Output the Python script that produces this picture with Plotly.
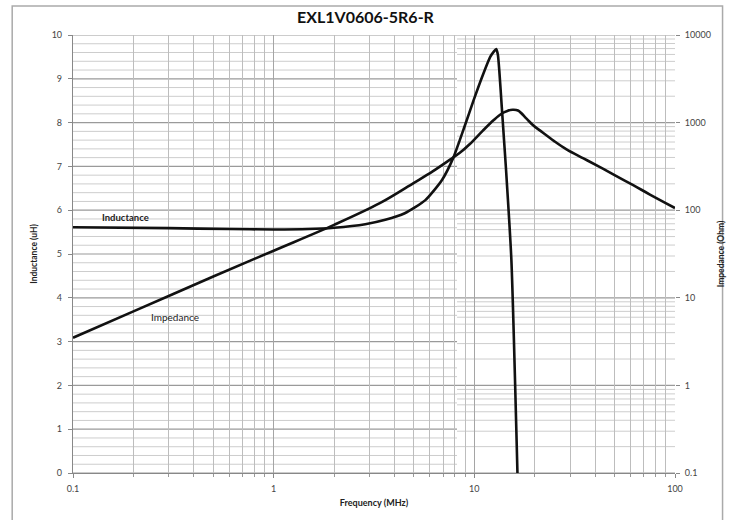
import math
import plotly.graph_objects as go

# ---------------- data ----------------
ind_freq = [0.1, 0.3, 0.6, 1.0, 1.5, 2.0, 2.86, 3.6, 4.5, 5.7, 6.9, 7.86, 9.0, 9.9, 11.1, 12.0, 12.5, 12.85, 13.1, 13.35, 13.7, 14.06, 14.4, 15.3, 16.4]
ind_uH = [5.61, 5.59, 5.57, 5.56, 5.57, 5.60, 5.68, 5.78, 5.93, 6.23, 6.69, 7.20, 7.95, 8.50, 9.12, 9.50, 9.62, 9.68, 9.55, 9.12, 8.36, 7.60, 6.90, 4.86, 0.0]

imp_freq = [0.1, 0.2, 0.5, 1.0, 2.0, 3.4, 5.0, 6.2, 7.6, 8.5, 9.5, 11.0, 12.5, 13.7, 14.6, 15.5, 16.5, 18.2, 19.7, 21.2, 25.0, 28.8, 35.0, 42.3, 50.0, 61.9, 75.0, 100.0]
imp_ohm = [3.5, 7.0, 17.5, 34.5, 68.0, 121.0, 205.0, 277.0, 380.0, 455.0, 570.0, 805.0, 1070.0, 1270.0, 1360.0, 1400.0, 1375.0, 1110.0, 925.0, 815.0, 615.0, 495.0, 390.0, 310.0, 251.0, 193.0, 151.0, 106.0]

title_text = "EXL1V0606-5R6-R"
x_title = "Frequency (MHz)"
y_left_title = "Inductance (uH)"
y_right_title = "Impedance (Ohm)"

freq_major = [0.1, 1, 10, 100]
freq_major_text = ["0.1", "1", "10", "100"]
freq_minor = [m * d for d in [0.1, 1, 10] for m in range(2, 10)]

ind_ticks = list(range(0, 11))
ind_minor_step = 0.2
imp_major = [0.1, 1, 10, 100, 1000, 10000]
imp_major_text = ["0.1", "1", "10", "100", "1000", "10000"]
imp_minor = [m * d for d in [0.1, 1, 10, 100, 1000] for m in range(2, 10)]

split_mhz = 8.2  # where the reference switches horizontal grid style

# ---------------- styling ----------------
FONT = "Lato"
MAJOR = "#9a9a9a"
MINOR = "#cdcdcd"
VGRID = "#bdbdbd"
TXT = "#444444"

x_lo, x_hi = math.log10(freq_major[0]), math.log10(freq_major[-1])
split_frac = (math.log10(split_mhz) - x_lo) / (x_hi - x_lo)
imp_lo, imp_hi = math.log10(imp_major[0]), math.log10(imp_major[-1])
ind_lo, ind_hi = ind_ticks[0], ind_ticks[-1]


def imp_to_ind_scale(v):
    # position of an impedance gridline expressed in the left (linear) axis units
    return ind_lo + (math.log10(v) - imp_lo) / (imp_hi - imp_lo) * (ind_hi - ind_lo)


shapes = []
# left part: linear inductance grid (major integers, minor every 0.2)
n_minor = int(round((ind_hi - ind_lo) / ind_minor_step))
for k in range(n_minor + 1):
    v = ind_lo + k * ind_minor_step
    is_major = abs(v - round(v)) < 1e-9
    shapes.append(dict(type="line", xref="paper", yref="y", x0=0, x1=split_frac, y0=v, y1=v,
                       line=dict(color=MAJOR if is_major else MINOR, width=1.2 if is_major else 1),
                       layer="below"))
# right part: log impedance grid
for v in imp_minor:
    yv = imp_to_ind_scale(v)
    shapes.append(dict(type="line", xref="paper", yref="y", x0=split_frac, x1=1, y0=yv, y1=yv,
                       line=dict(color=MINOR, width=1), layer="below"))
for v in imp_major:
    yv = imp_to_ind_scale(v)
    shapes.append(dict(type="line", xref="paper", yref="y", x0=split_frac, x1=1, y0=yv, y1=yv,
                       line=dict(color=MAJOR, width=1.2), layer="below"))
# outer chart frame
shapes.append(dict(type="rect", xref="paper", yref="paper", x0=-0.101, x1=1.079, y0=-0.2, y1=1.066,
                   line=dict(color="#aaaaaa", width=1.5), fillcolor="rgba(0,0,0,0)", layer="below"))

fig = go.Figure()
fig.add_trace(go.Scatter(x=imp_freq, y=imp_ohm, xaxis="x", yaxis="y2", mode="lines",
                         line=dict(color="#111111", width=2.6, shape="spline", smoothing=1.0),
                         name="Impedance", showlegend=False))
fig.add_trace(go.Scatter(x=ind_freq, y=ind_uH, xaxis="x", yaxis="y", mode="lines",
                         line=dict(color="#111111", width=2.6, shape="spline", smoothing=0.6),
                         name="Inductance", showlegend=False))

fig.update_layout(
    width=731, height=520,
    margin=dict(l=73, r=56, t=35, b=47, autoexpand=False),
    paper_bgcolor="white",
    plot_bgcolor="white",
    font=dict(family=FONT, color=TXT, size=9),
    title=dict(text="<b>" + title_text + "</b>", x=0.5, xanchor="center", y=0.967, yanchor="middle",
               font=dict(family=FONT, size=16, color="#111111")),
    xaxis=dict(type="log", range=[x_lo, x_hi], automargin=False,
               tickmode="array", tickvals=freq_major, ticktext=freq_major_text,
               showgrid=True, gridcolor="#a5a5a5", gridwidth=1.2,
               minor=dict(tickmode="array", tickvals=freq_minor, showgrid=True, gridcolor=VGRID, gridwidth=1,
                          ticks="outside", ticklen=3, tickcolor="#999999"),
               ticks="outside", ticklen=4, tickcolor="#888888",
               showline=True, linecolor="#888888", linewidth=1.2,
               tickfont=dict(size=9, color=TXT), ticklabelstandoff=3,
               title=dict(text="<b>" + x_title + "</b>", font=dict(size=9, color="#222222"), standoff=6),
               zeroline=False),
    yaxis=dict(range=[ind_lo, ind_hi], tickmode="array", tickvals=ind_ticks, automargin=False,
               showgrid=False, zeroline=False,
               ticks="outside", ticklen=4, tickcolor="#888888",
               showline=True, linecolor="#888888", linewidth=1.2,
               tickfont=dict(size=9, color=TXT), ticklabelstandoff=4,
               title=dict(text="<b>" + y_left_title + "</b>", font=dict(size=8.5, color="#222222"), standoff=12)),
    yaxis2=dict(overlaying="y", anchor="x", side="right", type="log", range=[imp_lo, imp_hi], automargin=False,
                tickmode="array", tickvals=imp_major, ticktext=imp_major_text,
                showgrid=False, zeroline=False,
                ticks="outside", ticklen=4, tickcolor="#888888",
                showline=False,
                tickfont=dict(size=9, color=TXT), ticklabelstandoff=3,
                title=dict(text="<b>" + y_right_title + "</b>", font=dict(size=8.5, color="#222222"), standoff=8)),
    annotations=[
        dict(text="<b>Inductance</b>", x=math.log10(0.182), y=5.84, xref="x", yref="y",
             showarrow=False, font=dict(size=9.5, color="#222222")),
        dict(text="Impedance", x=math.log10(0.323), y=3.56, xref="x", yref="y",
             showarrow=False, font=dict(size=10, color="#222222")),
    ],
    shapes=shapes,
)

fig.write_html("out.html", config={"displayModeBar": False},
               post_script="document.body.style.margin='0px';")
